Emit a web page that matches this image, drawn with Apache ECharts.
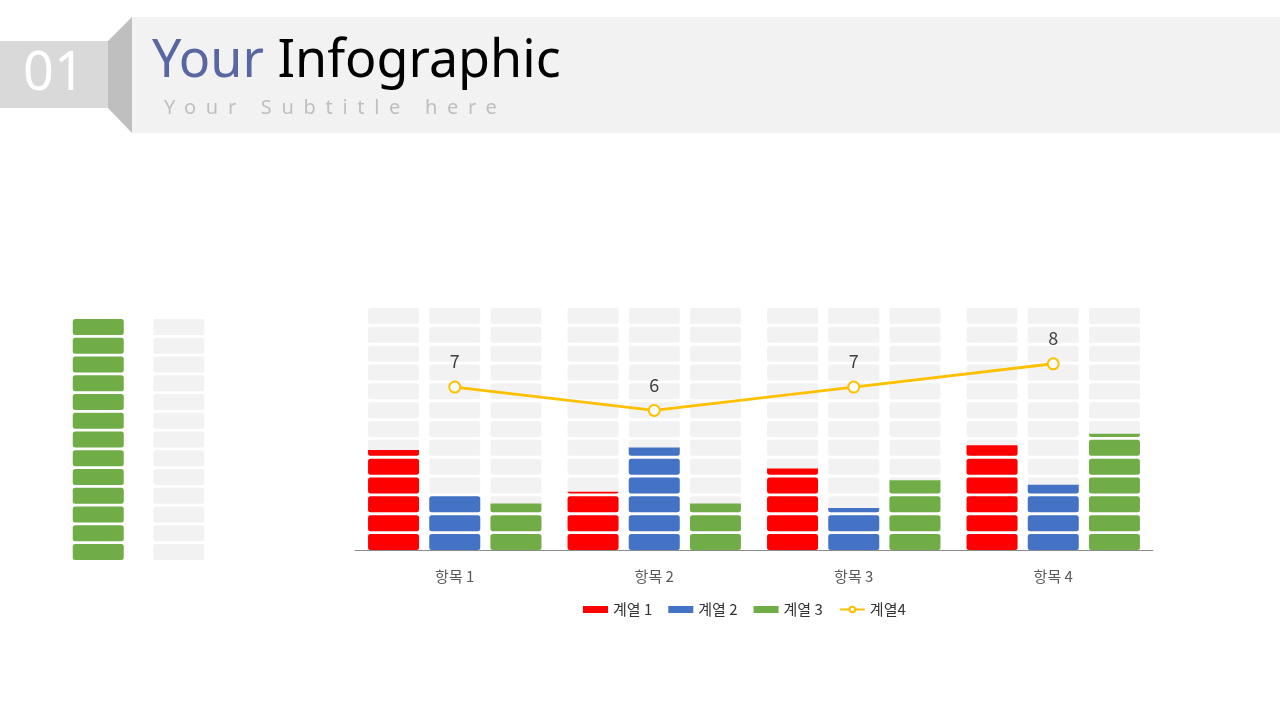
<!DOCTYPE html>
<html><head><meta charset="utf-8">
<script src="https://cdn.jsdelivr.net/npm/echarts@6/dist/echarts.min.js"></script>
<style>
html,body{margin:0;padding:0;background:#fff;}
#c{width:1280px;height:720px;}
#sub{position:absolute;left:164px;top:93px;font:20px "Noto Sans";letter-spacing:9.7px;color:#BFBFBF;white-space:nowrap;}
</style>
</head><body>
<div id="c"></div>
<div id="sub">Your Subtitle here</div>
<script>
const categories = ['항목 1', '항목 2', '항목 3', '항목 4'];
const seriesNames = ['계열 1', '계열 2', '계열 3', '계열4'];
const series1 = [4.3, 2.5, 3.5, 4.5];
const series2 = [2.4, 4.4, 1.8, 2.8];
const series3 = [2, 2, 3, 5];
const series4 = [7, 6, 7, 8];
const scaleMax = 10.4;
const segmentCount = 13;
const iconValues = [1, 1];

const colors = ['#FF0000', '#4472C4', '#70AD47', '#FFC000'];
const track = '#F2F2F2';
const segSize = [51, 16];
const segPath = 'path://M25,0 H485 Q510,0 510,25 V135 Q510,160 485,160 H25 Q0,160 0,135 V25 Q0,0 25,0 Z';

function trackSeries(i) {
  return {
    type: 'pictorialBar', name: 'track' + i, xAxisIndex: 0, yAxisIndex: 0,
    data: categories.map(() => scaleMax),
    symbol: segPath, symbolSize: segSize, symbolRepeat: segmentCount,
    symbolBoundingData: scaleMax, barWidth: 51, barGap: '20%',
    itemStyle: { color: track }, z: 1, silent: true
  };
}
function colorSeries(i, data) {
  return {
    type: 'pictorialBar', name: seriesNames[i], xAxisIndex: 1, yAxisIndex: 0,
    data: data,
    symbol: segPath, symbolSize: segSize, symbolRepeat: segmentCount,
    symbolBoundingData: scaleMax, symbolClip: true, barWidth: 51, barGap: '20%',
    itemStyle: { color: colors[i] }, z: 2
  };
}

const chart = echarts.init(document.getElementById('c'));
chart.setOption({
  animation: false,
  backgroundColor: '#ffffff',
  textStyle: { fontFamily: '"Noto Sans CJK KR", "Noto Sans", sans-serif' },
  grid: [
    { left: 355, right: 127, top: 308, bottom: 170 },
    { left: 58, width: 161, top: 319, bottom: 160 }
  ],
  xAxis: [
    { type: 'category', gridIndex: 0, data: categories,
      axisLine: { lineStyle: { color: '#8C8C8C', width: 1 } },
      axisTick: { show: false },
      axisLabel: { color: '#595959', fontSize: 15, margin: 19 } },
    { type: 'category', gridIndex: 0, data: categories, show: false },
    { type: 'category', gridIndex: 1, data: ['a', 'b'], show: false }
  ],
  yAxis: [
    { type: 'value', gridIndex: 0, min: 0, max: scaleMax, show: false, splitLine: { show: false } },
    { type: 'value', gridIndex: 1, min: 0, max: 1, show: false, splitLine: { show: false } }
  ],
  legend: {
    left: 578, top: 597, itemWidth: 25, itemHeight: 7, itemGap: 16,
    textStyle: { color: '#333333', fontSize: 15 },
    data: [
      { name: seriesNames[0], icon: 'rect' },
      { name: seriesNames[1], icon: 'rect' },
      { name: seriesNames[2], icon: 'rect' },
      { name: seriesNames[3] }
    ]
  },
  graphic: [
    { type: 'rect', shape: { x: 132, y: 17, width: 1148, height: 116 }, style: { fill: '#F2F2F2' }, z: -10 },
    { type: 'rect', shape: { x: 0, y: 41, width: 108, height: 67 }, style: { fill: '#D9D9D9' }, z: -10 },
    { type: 'polygon', shape: { points: [[108, 41], [132, 17], [132, 133], [108, 108]] }, style: { fill: '#BFBFBF' }, z: -10 },
    { type: 'text', x: 54, y: 75, style: { text: '01', fill: '#ffffff', font: '54px "Noto Sans"', align: 'center', verticalAlign: 'middle' }, z: -5 },
    { type: 'text', x: 152, y: 62, style: {
        text: '{a|Your} {b|Infographic}', verticalAlign: 'middle', align: 'left',
        rich: {
          a: { fill: '#5866A1', font: '52px "Noto Sans"' },
          b: { fill: '#000000', font: '52px "Noto Sans"' }
        }, font: '52px "Noto Sans"' }, z: -5 }
  ],
  series: [
    trackSeries(1), trackSeries(2), trackSeries(3),
    colorSeries(0, series1), colorSeries(1, series2), colorSeries(2, series3),
    {
      type: 'line', name: seriesNames[3], xAxisIndex: 0, yAxisIndex: 0, data: series4,
      symbol: 'emptyCircle', symbolSize: 11, showAllSymbol: true,
      lineStyle: { color: colors[3], width: 3 },
      itemStyle: { color: colors[3], borderWidth: 1.5 },
      label: { show: true, position: 'top', distance: 10, color: '#404040', fontSize: 18 },
      z: 5
    },
    {
      type: 'pictorialBar', name: 'icon', xAxisIndex: 2, yAxisIndex: 1,
      data: [
        { value: iconValues[0], itemStyle: { color: colors[2] } },
        { value: iconValues[1], itemStyle: { color: track } }
      ],
      symbol: segPath, symbolSize: segSize, symbolRepeat: segmentCount,
      symbolBoundingData: 1, barWidth: 51, silent: true
    }
  ]
});
</script>
</body></html>
